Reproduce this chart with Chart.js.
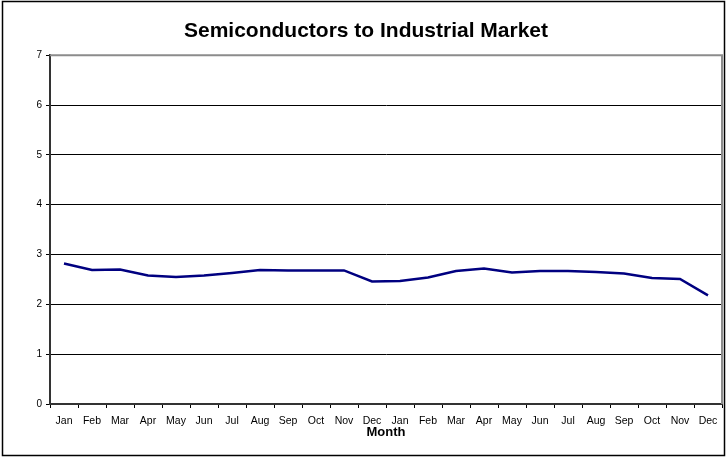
<!DOCTYPE html>
<html>
<head>
<meta charset="utf-8">
<script src="https://cdn.jsdelivr.net/npm/chart.js@4.4.1/dist/chart.umd.min.js"></script>
<style>
  body { margin: 0; background: #fff; }
  canvas { display: block; }
</style>
</head>
<body>
<canvas id="semiChart" width="727" height="457"></canvas>
<script>
const months = ["Jan","Feb","Mar","Apr","May","Jun","Jul","Aug","Sep","Oct","Nov","Dec",
                "Jan","Feb","Mar","Apr","May","Jun","Jul","Aug","Sep","Oct","Nov","Dec"];
const industrialValues = [2.82, 2.69, 2.70, 2.58, 2.55, 2.58, 2.63, 2.69, 2.68, 2.68, 2.68, 2.46,
                          2.47, 2.54, 2.67, 2.72, 2.64, 2.67, 2.67, 2.65, 2.62, 2.53, 2.51, 2.18];
const yTicks = [0, 1, 2, 3, 4, 5, 6, 7];

const FONT = "Arial, 'Liberation Sans', sans-serif";

// outer frame + grey plot border (top / right)
const frames = {
    id: "frames",
    beforeDatasetsDraw(chart) {
        const { ctx, chartArea: a } = chart;
        ctx.save();
        ctx.strokeStyle = "#8c8c8c";
        ctx.lineWidth = 2;
        ctx.beginPath();
        ctx.moveTo(a.left, a.top);
        ctx.lineTo(a.right, a.top);
        ctx.lineTo(a.right, a.bottom);
        ctx.stroke();
        ctx.restore();
    },
    afterDraw(chart) {
        const { ctx } = chart;
        ctx.save();
        ctx.strokeStyle = "#000";
        ctx.lineWidth = 1.5;
        ctx.strokeRect(2.5, 1.5, 722, 454);
        ctx.restore();
    }
};

const canvas = document.getElementById("semiChart");
new Chart(canvas, {
    type: "line",
    data: {
        labels: months,
        datasets: [{
            label: "Industrial",
            data: industrialValues,
            borderColor: "#000080",
            borderWidth: 2.5,
            pointRadius: 0,
            tension: 0,
            fill: false
        }]
    },
    options: {
        responsive: false,
        animation: false,
        layout: { padding: { left: 10, right: 5, top: 0, bottom: 0 } },
        plugins: {
            legend: { display: false },
            tooltip: { enabled: false },
            title: {
                display: true,
                text: "Semiconductors to Industrial Market",
                color: "#000",
                font: { family: FONT, size: 21, weight: "bold" },
                padding: { top: 19, bottom: 11 }
            }
        },
        scales: {
            x: {
                offset: true,
                grid: {
                    offset: true,
                    drawOnChartArea: false,
                    tickLength: 4,
                    color: "#000"
                },
                border: { color: "#333", width: 2 },
                ticks: {
                    autoSkip: false,
                    maxRotation: 0,
                    color: "#000",
                    padding: 7,
                    font: { family: FONT, size: 10.5 }
                },
                title: {
                    display: true,
                    text: "Month",
                    color: "#000",
                    font: { family: FONT, size: 13, weight: "bold" },
                    padding: { top: 0, bottom: 17 }
                },
                afterFit(scale) { scale.height = 53; }
            },
            y: {
                min: 0,
                max: 7,
                afterBuildTicks(scale) { scale.ticks = yTicks.map(v => ({ value: v })); },
                grid: {
                    color: ctx => (ctx.tick && (ctx.tick.value === 7 || ctx.tick.value === 0)) ? "rgba(0,0,0,0)" : "#000",
                    tickColor: "#000",
                    lineWidth: 1,
                    tickLength: 4
                },
                border: { color: "#333", width: 2 },
                ticks: {
                    color: "#000",
                    padding: 4,
                    font: { family: FONT, size: 10 }
                },
                afterFit(scale) { scale.width = 40; }
            }
        }
    },
    plugins: [frames]
});
</script>
</body>
</html>
